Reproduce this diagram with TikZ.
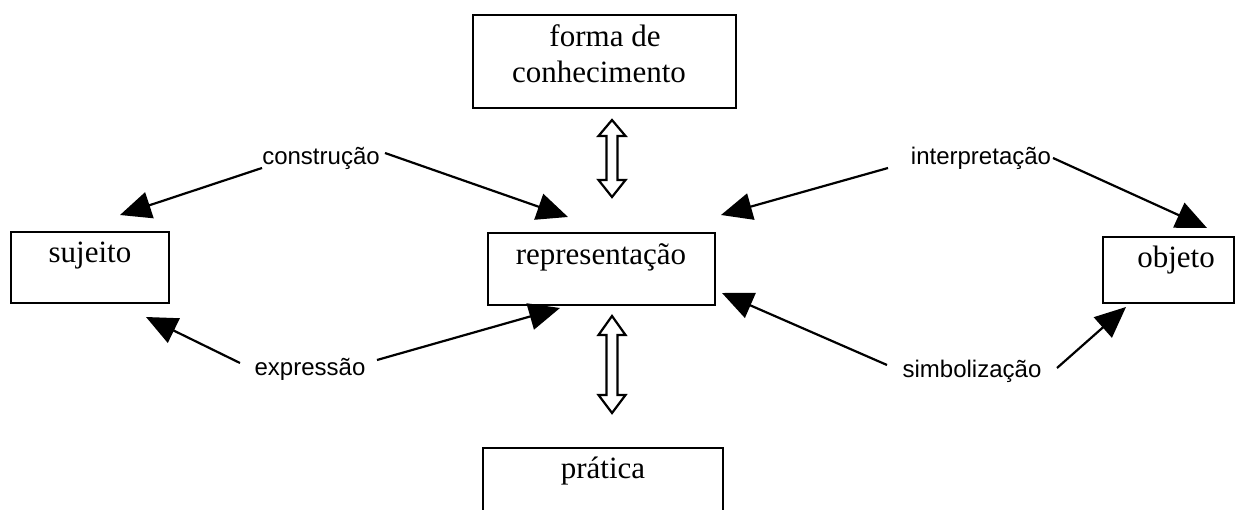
\documentclass[tikz,border=0pt]{standalone}
\usepackage{fontspec}
\setmainfont{Liberation Serif}
\newfontfamily\labelfont{Liberation Sans}
\usetikzlibrary{arrows.meta}
\begin{document}
\begin{tikzpicture}[x=1pt,y=-1pt,
  box/.style={draw, line width=2.9pt, inner sep=0pt},
  boxtext/.style={font=\fontsize{31}{36}\selectfont, inner sep=0pt, anchor=base},
  lbl/.style={font=\labelfont\fontsize{24}{28}\selectfont, inner sep=0pt, anchor=base},
  conn/.style={line width=2.2pt, -{Triangle[length=31pt,width=27pt]}},
  dbl/.style={draw, line width=2.2pt, fill=white, line join=miter}]
\useasboundingbox (0,0) rectangle (1236,510);
% boxes
\node[box, minimum width=263pt, minimum height=93pt] (forma) at (604.5,61.5) {};
\node[box, minimum width=158pt, minimum height=71pt] (sujeito) at (90,267.5) {};
\node[box, minimum width=227pt, minimum height=72pt] (repr) at (601.5,269) {};
\node[box, minimum width=131pt, minimum height=66pt] (objeto) at (1168.5,270) {};
\node[box, minimum width=240pt, minimum height=82pt] (pratica) at (603,489) {};
% box texts
\node[boxtext] (t1) at (605,47) {forma de};
\node[boxtext] (t2) at (599,83) {conhecimento};
\node[boxtext] (t3) at (90,263) {sujeito};
\node[boxtext] (t4) at (601,265) {representação};
\node[boxtext] (t5) at (1176,268) {objeto};
\node[boxtext] (t6) at (603,478) {prática};
% labels
\node[lbl] (lc) at (321,165) {construção};
\node[lbl] (li) at (981,165) {interpretação};
\node[lbl] (le) at (310,375) {expressão};
\node[lbl] (ls) at (972,377) {simbolização};
% connector ends
\coordinate (c1s) at (262,168); \coordinate (c1t) at (120,215);
\coordinate (c2s) at (385,153); \coordinate (c2t) at (568,217);
\coordinate (i1s) at (888,168); \coordinate (i1t) at (721,215);
\coordinate (i2s) at (1053,158); \coordinate (i2t) at (1207,228);
\coordinate (e1s) at (240,363); \coordinate (e1t) at (146,317);
\coordinate (e2s) at (377,360); \coordinate (e2t) at (560,308);
\coordinate (s1s) at (887,365); \coordinate (s1t) at (722,293);
\coordinate (s2s) at (1057,368); \coordinate (s2t) at (1126,307);
\draw[conn] (c1s) -- (c1t);
\draw[conn] (c2s) -- (c2t);
\draw[conn] (i1s) -- (i1t);
\draw[conn] (i2s) -- (i2t);
\draw[conn] (e1s) -- (e1t);
\draw[conn] (e2s) -- (e2t);
\draw[conn] (s1s) -- (s1t);
\draw[conn] (s2s) -- (s2t);
% double arrows
\draw[dbl] (612,120) -- (625.5,136) -- (617.5,136) -- (617.5,180) -- (625.5,180) -- (612,197)
  -- (598.5,180) -- (606.5,180) -- (606.5,136) -- (598.5,136) -- cycle;
\draw[dbl] (612,316) -- (625.5,335) -- (617.5,335) -- (617.5,395) -- (625.5,395) -- (612,413)
  -- (598.5,395) -- (606.5,395) -- (606.5,335) -- (598.5,335) -- cycle;
\end{tikzpicture}
\end{document}
